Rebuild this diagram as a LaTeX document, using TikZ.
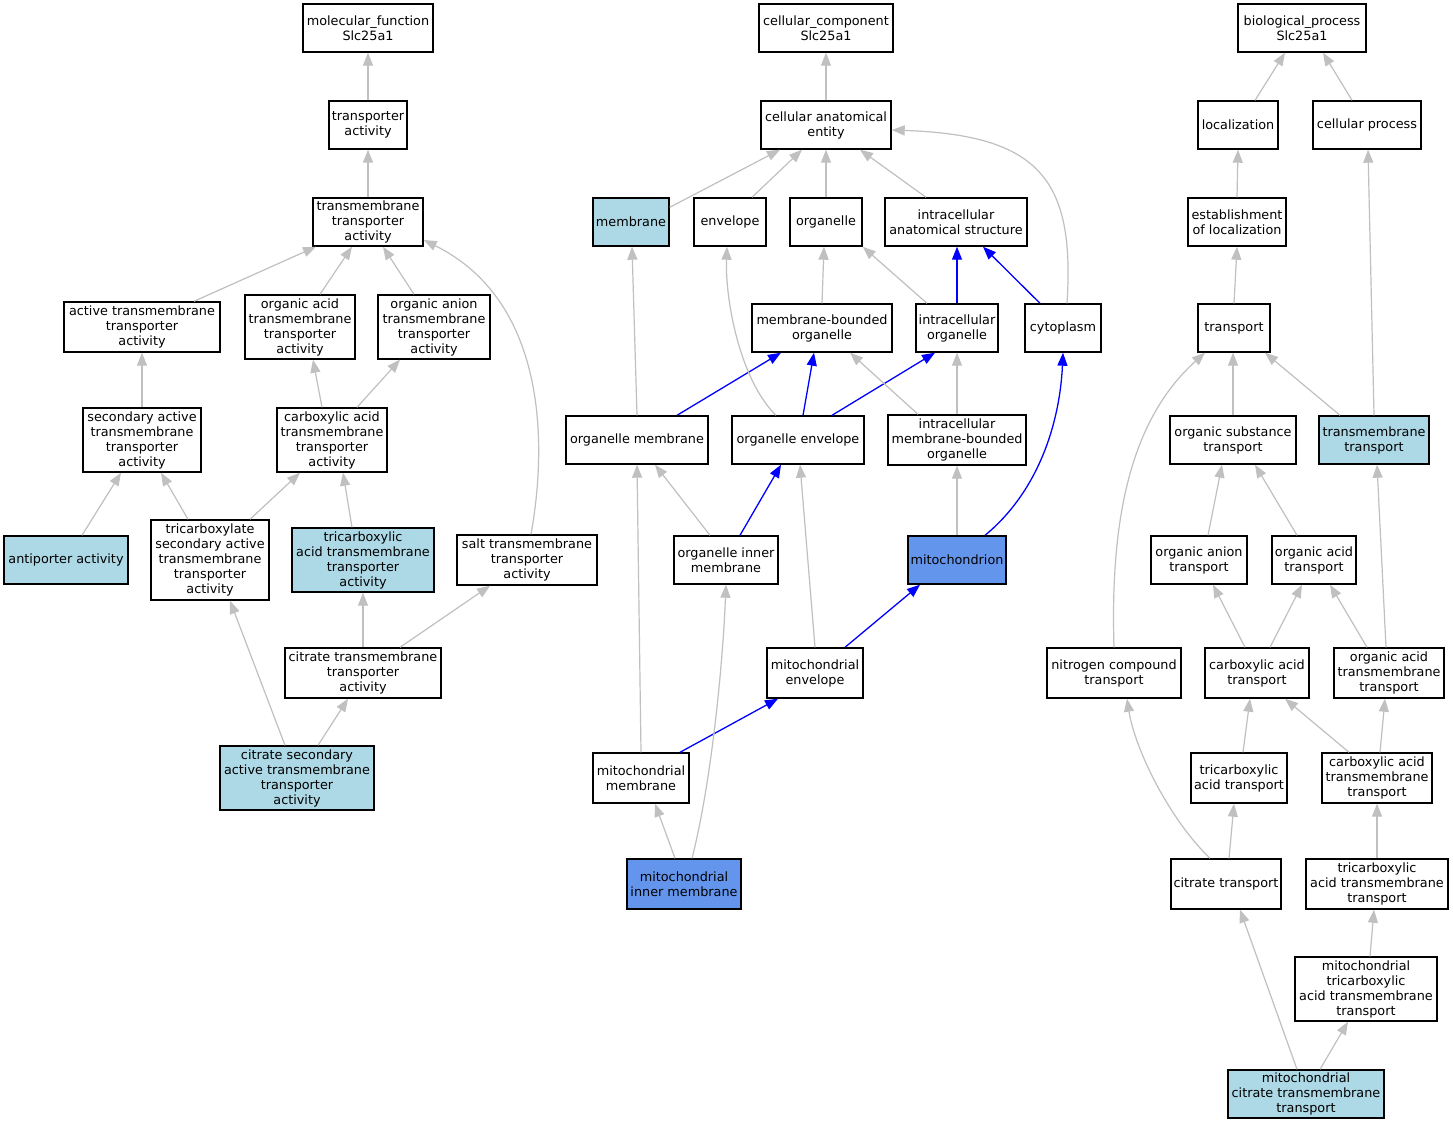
\documentclass[tikz,border=0pt]{standalone}
\usepackage{fontspec}
\newfontfamily\dejavu{DejaVu Sans}
\usetikzlibrary{arrows.meta}
\definecolor{lblue}{HTML}{ADD8E6}
\definecolor{cblue}{HTML}{6495ED}
\definecolor{egray}{HTML}{C0C0C0}
\tikzset{
  box/.style={draw=black, line width=1.4pt, fill=white, align=center, inner xsep=1pt, inner ysep=1pt,
              font={\dejavu\fontsize{12.8}{15}\selectfont}, text=black},
  sz/.style 2 args={minimum width=#1, minimum height=#2},
  hl/.style={fill=lblue},
  hd/.style={fill=cblue},
  ge/.style={draw=egray, line width=1.2pt, -{Triangle[length=13pt,width=10pt]}},
  be/.style={draw=blue, line width=1.3pt, -{Triangle[length=13pt,width=10pt]}},
}
\begin{document}
\begin{tikzpicture}[x=1pt,y=-1pt]
\useasboundingbox (0,0) rectangle (1453,1125);
\fill[white] (0,0) rectangle (1453,1125);
% ---------------- molecular function ----------------
\node[box,sz={130pt}{48pt}] (mf) at (368,28) {molecular\_function\\Slc25a1};
\node[box,sz={78pt}{48pt}] (ta) at (368,125) {transporter\\activity};
\node[box,sz={110pt}{48pt}] (tta) at (368,222) {transmembrane\\transporter\\activity};
\node[box,sz={156pt}{50pt}] (atta) at (142,327) {active transmembrane\\transporter\\activity};
\node[box,sz={110pt}{64pt}] (oatta) at (300,327) {organic acid\\transmembrane\\transporter\\activity};
\node[box,sz={112pt}{64pt}] (oanta) at (434,327) {organic anion\\transmembrane\\transporter\\activity};
\node[box,sz={118pt}{64pt}] (sata) at (142,440) {secondary active\\transmembrane\\transporter\\activity};
\node[box,sz={110pt}{64pt}] (cata) at (332,440) {carboxylic acid\\transmembrane\\transporter\\activity};
\node[box,hl,sz={124pt}{48pt}] (anti) at (66,560) {antiporter activity};
\node[box,sz={118pt}{80pt}] (tsata) at (210,560) {tricarboxylate\\secondary active\\transmembrane\\transporter\\activity};
\node[box,hl,sz={142pt}{64pt}] (tatta) at (363,560) {tricarboxylic\\acid transmembrane\\transporter\\activity};
\node[box,sz={140pt}{50pt}] (salt) at (527,560) {salt transmembrane\\transporter\\activity};
\node[box,sz={156pt}{50pt}] (citta) at (363,673) {citrate transmembrane\\transporter\\activity};
\node[box,hl,sz={154pt}{64pt}] (csata) at (297,778) {citrate secondary\\active transmembrane\\transporter\\activity};
% ---------------- cellular component ----------------
\node[box,sz={134pt}{48pt}] (cc) at (826,28) {cellular\_component\\Slc25a1};
\node[box,sz={130pt}{48pt}] (cae) at (826,125) {cellular anatomical\\entity};
\node[box,hl,sz={76pt}{48pt}] (membrane) at (631,222) {membrane};
\node[box,sz={72pt}{48pt}] (envelope) at (730,222) {envelope};
\node[box,sz={72pt}{48pt}] (organelle) at (826,222) {organelle};
\node[box,sz={142pt}{48pt}] (ias) at (956,222) {intracellular\\anatomical structure};
\node[box,sz={140pt}{48pt}] (mbo) at (822,328) {membrane-bounded\\organelle};
\node[box,sz={82pt}{48pt}] (io) at (957,328) {intracellular\\organelle};
\node[box,sz={76pt}{48pt}] (cyto) at (1063,328) {cytoplasm};
\node[box,sz={142pt}{48pt}] (om) at (637,440) {organelle membrane};
\node[box,sz={132pt}{48pt}] (oe) at (798,440) {organelle envelope};
\node[box,sz={138pt}{50pt}] (imbo) at (957,440) {intracellular\\membrane-bounded\\organelle};
\node[box,sz={104pt}{48pt}] (oim) at (726,560) {organelle inner\\membrane};
\node[box,hd,sz={98pt}{48pt}] (mito) at (957,560) {mitochondrion};
\node[box,sz={96pt}{50pt}] (me) at (815,673) {mitochondrial\\envelope};
\node[box,sz={96pt}{50pt}] (mm) at (641,778) {mitochondrial\\membrane};
\node[box,hd,sz={114pt}{50pt}] (mim) at (684,884) {mitochondrial\\inner membrane};
% ---------------- biological process ----------------
\node[box,sz={128pt}{48pt}] (bp) at (1302,28) {biological\_process\\Slc25a1};
\node[box,sz={80pt}{48pt}] (loc) at (1238,125) {localization};
\node[box,sz={108pt}{48pt}] (cp) at (1367,125) {cellular process};
\node[box,sz={98pt}{48pt}] (eol) at (1237,222) {establishment\\of localization};
\node[box,sz={72pt}{48pt}] (transport) at (1234,328) {transport};
\node[box,sz={126pt}{48pt}] (ost) at (1233,440) {organic substance\\transport};
\node[box,hl,sz={110pt}{48pt}] (tmt) at (1374,440) {transmembrane\\transport};
\node[box,sz={96pt}{48pt}] (oat) at (1199,560) {organic anion\\transport};
\node[box,sz={84pt}{48pt}] (oact) at (1314,560) {organic acid\\transport};
\node[box,sz={134pt}{50pt}] (nct) at (1114,673) {nitrogen compound\\transport};
\node[box,sz={104pt}{50pt}] (cat) at (1257,673) {carboxylic acid\\transport};
\node[box,sz={110pt}{50pt}] (oatmt) at (1389,673) {organic acid\\transmembrane\\transport};
\node[box,sz={96pt}{50pt}] (tcat) at (1239,778) {tricarboxylic\\acid transport};
\node[box,sz={110pt}{50pt}] (catmt) at (1377,778) {carboxylic acid\\transmembrane\\transport};
\node[box,sz={110pt}{50pt}] (citt) at (1226,884) {citrate transport};
\node[box,sz={142pt}{50pt}] (tatmt) at (1377,884) {tricarboxylic\\acid transmembrane\\transport};
\node[box,sz={142pt}{64pt}] (mtatmt) at (1366,989) {mitochondrial\\tricarboxylic\\acid transmembrane\\transport};
\node[box,hl,sz={156pt}{48pt}] (mctt) at (1306,1094) {mitochondrial\\citrate transmembrane\\transport};
% ---------------- edges: molecular function ----------------
\draw[ge] (ta) -- (mf);
\draw[ge] (tta) -- (ta);
\draw[ge] ([xshift=52pt]atta.north) -- ([xshift=-52pt]tta.south);
\draw[ge] ([xshift=20pt]oatta.north) -- ([xshift=-16pt]tta.south);
\draw[ge] ([xshift=-20pt]oanta.north) -- ([xshift=15pt]tta.south);
\draw[ge] ([xshift=4pt]salt.north) .. controls (548,440) and (545,300) .. ([yshift=-18pt]tta.east);
\draw[ge] (sata) -- (atta);
\draw[ge] ([xshift=-10pt]cata.north) -- ([xshift=13pt]oatta.south);
\draw[ge] ([xshift=25pt]cata.north) -- ([xshift=-34pt]oanta.south);
\draw[ge] ([xshift=16pt]anti.north) -- ([xshift=-21pt]sata.south);
\draw[ge] ([xshift=-22pt]tsata.north) -- ([xshift=19pt]sata.south);
\draw[ge] ([xshift=40pt]tsata.north) -- ([xshift=-32pt]cata.south);
\draw[ge] ([xshift=-11pt]tatta.north) -- ([xshift=11pt]cata.south);
\draw[ge] (citta) -- (tatta);
\draw[ge] ([xshift=37pt]citta.north) -- ([xshift=-37pt]salt.south);
\draw[ge] ([xshift=-12pt]csata.north) -- ([xshift=20pt]tsata.south);
\draw[ge] ([xshift=21pt]csata.north) -- ([xshift=-15pt]citta.south);
% ---------------- edges: cellular component ----------------
\draw[ge] (cae) -- (cc);
\draw[ge] ([yshift=-10pt]membrane.north east) -- ([xshift=-46pt]cae.south);
\draw[ge] ([xshift=22pt]envelope.north) -- ([xshift=-24pt]cae.south);
\draw[ge] (organelle) -- (cae);
\draw[ge] ([xshift=-30pt]ias.north) -- ([xshift=34pt]cae.south);
\draw[ge] ([xshift=4pt]cyto.north) .. controls (1075,180) and (1040,135) .. ([yshift=-5pt]cae.east);
\draw[ge] (mbo.north) -- ([xshift=-2pt]organelle.south);
\draw[ge] ([xshift=-30pt]io.north) -- (organelle.south east);
\draw[be] (io.north) -- (io.north |- ias.south);
\draw[be] ([xshift=-23pt]cyto.north) -- ([xshift=27pt]ias.south);
\draw[ge] (om.north) -- ([xshift=1pt]membrane.south);
\draw[be] ([xshift=40pt]om.north) -- ([xshift=-41pt]mbo.south);
\draw[ge] ([xshift=-22pt]oe.north) .. controls (740,380) and (725,300) .. ([xshift=-3pt]envelope.south);
\draw[be] ([xshift=5pt]oe.north) -- ([xshift=-8pt]mbo.south);
\draw[be] ([xshift=34pt]oe.north) -- ([xshift=-22pt]io.south);
\draw[ge] ([xshift=-39pt]imbo.north) -- ([xshift=28pt]mbo.south);
\draw[ge] (imbo) -- (io);
\draw[ge] ([xshift=-16pt]oim.north) -- ([xshift=18pt]om.south);
\draw[be] ([xshift=14pt]oim.north) -- ([xshift=-17pt]oe.south);
\draw[ge] (mito) -- (imbo);
\draw[be] ([xshift=28pt]mito.north) .. controls (1040,490) and (1060,420) .. (cyto.south);
\draw[ge] (me.north) -- ([xshift=2pt]oe.south);
\draw[be] ([xshift=30pt]me.north) -- ([xshift=-37pt]mito.south);
\draw[ge] (mm.north) -- (om.south);
\draw[be] ([xshift=39pt]mm.north) -- ([xshift=-37pt]me.south);
\draw[ge] ([xshift=-9pt]mim.north) -- ([xshift=14pt]mm.south);
\draw[ge] ([xshift=8pt]mim.north) .. controls (712,780) and (723,660) .. (oim.south);
% ---------------- edges: biological process ----------------
\draw[ge] ([xshift=17pt]loc.north) -- ([xshift=-17pt]bp.south);
\draw[ge] ([xshift=-15pt]cp.north) -- ([xshift=21pt]bp.south);
\draw[ge] (eol.north) -- (loc.south);
\draw[ge] (transport.north) -- (eol.south);
\draw[ge] (tmt.north) -- ([xshift=1pt]cp.south);
\draw[ge] (ost.north) -- (ost.north |- transport.south);
\draw[ge] ([xshift=-34pt]tmt.north) -- ([xshift=31pt]transport.south);
\draw[ge] (nct.north) .. controls (1110,520) and (1130,420) .. ([xshift=-29pt]transport.south);
\draw[ge] ([xshift=9pt]oat.north) -- ([xshift=-11pt]ost.south);
\draw[ge] ([xshift=-17pt]oact.north) -- ([xshift=22pt]ost.south);
\draw[ge] ([xshift=-12pt]cat.north) -- ([xshift=14pt]oat.south);
\draw[ge] ([xshift=13pt]cat.north) -- ([xshift=-12pt]oact.south);
\draw[ge] ([xshift=-22pt]oatmt.north) -- ([xshift=16pt]oact.south);
\draw[ge] ([xshift=-3pt]oatmt.north) -- ([xshift=3pt]tmt.south);
\draw[ge] ([xshift=4pt]tcat.north) -- ([xshift=-7pt]cat.south);
\draw[ge] ([xshift=-28pt]catmt.north) -- ([xshift=28pt]cat.south);
\draw[ge] ([xshift=3pt]catmt.north) -- ([xshift=-4pt]oatmt.south);
\draw[ge] ([xshift=3pt]citt.north) -- ([xshift=-5pt]tcat.south);
\draw[ge] ([xshift=-16pt]citt.north) .. controls (1170,820) and (1135,750) .. ([xshift=13pt]nct.south);
\draw[ge] (tatmt) -- (catmt);
\draw[ge] ([xshift=4pt]mtatmt.north) -- ([xshift=-3pt]tatmt.south);
\draw[ge] ([xshift=-9pt]mctt.north) -- ([xshift=14pt]citt.south);
\draw[ge] ([xshift=14pt]mctt.north) -- ([xshift=-18pt]mtatmt.south);
\end{tikzpicture}
\end{document}
